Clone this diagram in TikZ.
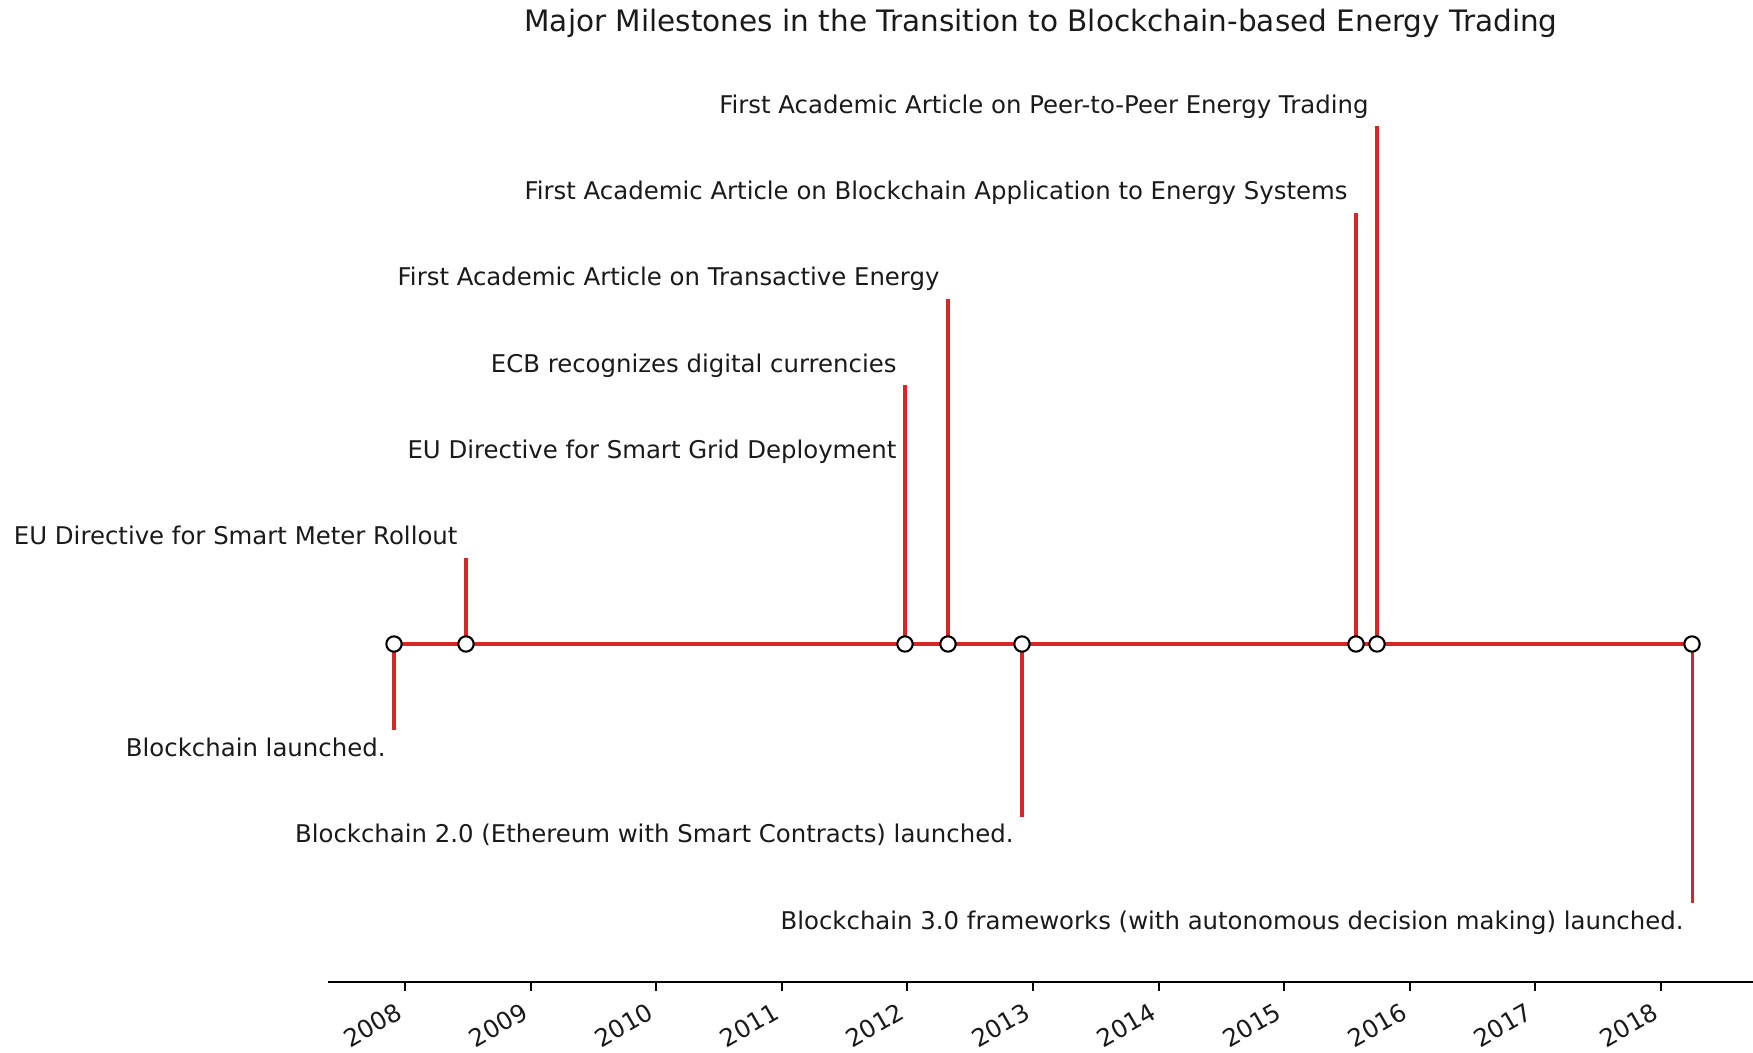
\documentclass[tikz,border=0pt]{standalone}
\usepackage{fontspec}
\setmainfont{DejaVu Sans}
\usetikzlibrary{calc}
\definecolor{stemred}{HTML}{D62728}
\definecolor{inkgray}{HTML}{1A1A1A}

\tikzset{
  stemline/.style={stemred, line width=1.25pt},
  axisline/.style={black, line width=0.8pt},
  dot/.style={circle, draw=black, fill=white, line width=0.85pt, inner sep=0pt, minimum size=6.3pt},
  uplabel/.style={anchor=base east, inner sep=0pt, xshift=-3.3pt, yshift=5.3pt, text=inkgray, font=\fontsize{10}{12}\selectfont},
  downlabel/.style={anchor=base east, inner sep=0pt, xshift=-3.3pt, yshift=-10.7pt, text=inkgray, font=\fontsize{10}{12}\selectfont},
  yearlabel/.style={anchor=north east, inner sep=0pt, rotate=30, text=inkgray, font=\fontsize{10}{12}\selectfont},
  titletext/.style={anchor=base, inner sep=0pt, text=inkgray, font=\fontsize{12.1}{14}\selectfont}
}

\begin{document}
\begin{tikzpicture}[x=0.41pt, y=-0.41pt]
  \useasboundingbox (0,0) rectangle (1753,1053);

  \node[titletext] (title) at (1041,32) {Major Milestones in the Transition to Blockchain-based Energy Trading};

  % events on the time line
  \coordinate (chainone) at (394,644);
  \coordinate (meter) at (466,644);
  \coordinate (grid) at (905,644);
  \coordinate (transactive) at (948,644);
  \coordinate (chaintwo) at (1022,644);
  \coordinate (energyapp) at (1356,644);
  \coordinate (peertopeer) at (1377,644);
  \coordinate (chainthree) at (1692,644);

  % stem ends, one level = 86.3
  \coordinate (chainone-end) at ($(chainone)+(0,86.3)$);
  \coordinate (meter-end) at ($(meter)+(0,-86.3)$);
  \coordinate (grid-end) at ($(grid)+(0,-172.6)$);
  \coordinate (ecb-end) at ($(grid)+(0,-258.9)$);
  \coordinate (transactive-end) at ($(transactive)+(0,-345.2)$);
  \coordinate (chaintwo-end) at ($(chaintwo)+(0,172.6)$);
  \coordinate (energyapp-end) at ($(energyapp)+(0,-431.5)$);
  \coordinate (peertopeer-end) at ($(peertopeer)+(0,-517.8)$);
  \coordinate (chainthree-end) at ($(chainthree)+(0,258.9)$);

  \draw[stemline] (chainone) -- (chainone-end);
  \draw[stemline] (meter) -- (meter-end);
  \draw[stemline] (grid) -- (grid-end);
  \draw[stemline] (grid) -- (ecb-end);
  \draw[stemline] (transactive) -- (transactive-end);
  \draw[stemline] (chaintwo) -- (chaintwo-end);
  \draw[stemline] (energyapp) -- (energyapp-end);
  \draw[stemline] (peertopeer) -- (peertopeer-end);
  \draw[stemline] (chainthree) -- (chainthree-end);

  \draw[stemline] (chainone) -- (chainthree);
  \foreach \ev in {chainone,meter,grid,transactive,chaintwo,energyapp,peertopeer,chainthree}
    \node[dot] (\ev-dot) at (\ev) {};

  % labels
  \node[downlabel] (chainone-text) at (chainone-end) {Blockchain launched.};
  \node[uplabel] (meter-text) at (meter-end) {EU Directive for Smart Meter Rollout};
  \node[uplabel] (grid-text) at (grid-end) {EU Directive for Smart Grid Deployment};
  \node[uplabel] (ecb-text) at (ecb-end) {ECB recognizes digital currencies};
  \node[uplabel] (transactive-text) at (transactive-end) {First Academic Article on Transactive Energy};
  \node[downlabel] (chaintwo-text) at (chaintwo-end) {Blockchain 2.0 (Ethereum with Smart Contracts) launched.};
  \node[uplabel] (energyapp-text) at (energyapp-end) {First Academic Article on Blockchain Application to Energy Systems};
  \node[uplabel] (peertopeer-text) at (peertopeer-end) {First Academic Article on Peer-to-Peer Energy Trading};
  \node[downlabel] (chainthree-text) at (chainthree-end) {Blockchain 3.0 frameworks (with autonomous decision making) launched.};

  % date axis
  \coordinate (axisstart) at (328,982);
  \coordinate (axisend) at (1753,982);
  \draw[axisline] (axisstart) -- (axisend);
  \foreach \yr in {2008,...,2018} {
    \coordinate (tick\yr) at ({405+125.6*(\yr-2008)},982);
    \draw[axisline] (tick\yr) -- ++(0,9);
    \node[yearlabel] (year\yr) at ($(tick\yr)+(-10,19)$) {\yr};
  }
\end{tikzpicture}
\end{document}
